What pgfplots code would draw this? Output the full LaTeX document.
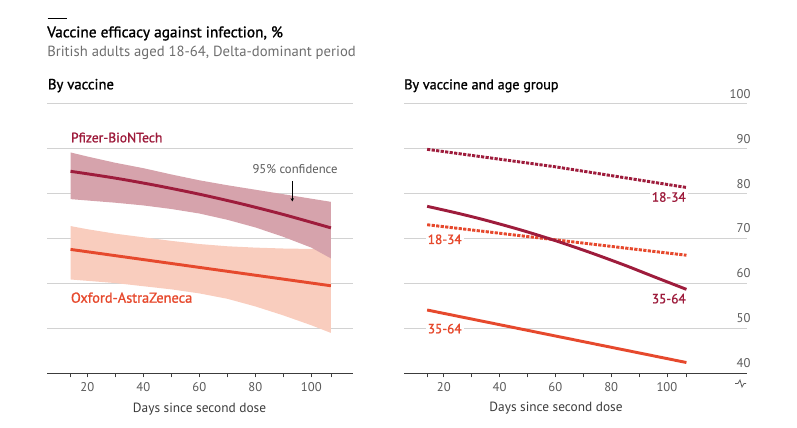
\documentclass[border=0pt]{standalone}
\usepackage{pgfplots}
\pgfplotsset{compat=1.18}
\usepackage{fontspec}
\setmainfont{PT Sans}
\newfontfamily\semib[FakeBold=1.2]{PT Sans}
\usetikzlibrary{arrows.meta}
\definecolor{pfz}{HTML}{9E1C3C}
\definecolor{pfzband}{HTML}{D6A3AC}
\definecolor{ox}{HTML}{E6492D}
\definecolor{oxband}{HTML}{F9CDBE}
\definecolor{gridc}{HTML}{D2D2D2}
\definecolor{axisc}{HTML}{3C3C3C}
\definecolor{tickc}{HTML}{5A5A5A}
\definecolor{subc}{HTML}{6E6E6E}
\pgfplotsset{
  econ/.style={
    scale only axis,
    axis x line*=bottom, axis y line*=right,
    y axis line style={draw=none},
    x axis line style={draw=axisc, line width=0.75pt},
    ymin=40, ymax=100,
    ytick={40,50,60,70,80,90,100},
    ytick style={draw=none},
    ymajorgrids,
    grid style={draw=gridc, line width=0.75pt},
    xtick={20,40,60,80,100},
    extra x ticks={14,30,50,70,90,107},
    extra x tick labels={},
    extra x tick style={grid=none},
    tick align=outside,
    major tick length=3pt,
    xtick style={draw=axisc, line width=0.6pt},
    tick label style={font=\fontsize{9.5}{10}\selectfont, text=tickc},
    xticklabel style={anchor=base, yshift=-10.5pt},
    /pgf/number format/assume math mode=true,
    clip=false,
  }
}
\begin{document}
\begin{tikzpicture}[x=0.75pt,y=0.75pt]
\useasboundingbox (0,0) rectangle (797,428);
% left panel
\begin{axis}[econ, at={(35.475pt,41.025pt)}, anchor=south west, width=229.5pt, height=202pt,
  xmin=5.7, xmax=115, yticklabels={}]
  % Oxford band (upper edge, then lower edge reversed)
  \addplot[fill=oxband, draw=none] coordinates {
    (14,72.8) (20,72.1) (30,71.1) (40,70.3) (50,69.5) (60,68.8) (70,68.3) (80,68.0) (90,67.8) (100,67.7) (107,67.7)
    (107,49.0) (100,50.7) (90,52.9) (80,54.9) (70,56.6) (60,57.8) (50,58.7) (40,59.4) (30,60.1) (20,60.6) (14,60.9)} -- cycle;
  % Pfizer band
  \addplot[fill=pfzband, draw=none] coordinates {
    (14,89.2) (20,88.3) (30,86.9) (40,85.7) (50,84.3) (60,83.0) (70,81.9) (80,80.9) (90,79.9) (100,78.9) (107,78.2)
    (107,65.6) (100,68.0) (90,70.4) (80,72.5) (70,74.2) (60,75.6) (50,76.6) (40,77.4) (30,78.0) (20,78.5) (14,78.8)} -- cycle;
  \addplot[ox, line width=2.2pt, line cap=butt] coordinates {(14,67.6) (107,59.5)};
  \addplot[pfz, line width=2.2pt, smooth, line cap=butt] coordinates {
    (14,85.0) (30,83.48) (45,81.8) (60,79.9) (75,77.76) (90,75.38) (107,72.4)};
\end{axis}
% right panel
\begin{axis}[econ, at={(303pt,41.025pt)}, anchor=south west, width=257pt, height=202pt,
  xmin=5.7, xmax=128.6,
  yticklabel pos=right,
  yticklabel style={anchor=base east, inner sep=0pt, xshift=0pt, yshift=4.3pt}]
  \addplot[pfz, line width=2.2pt, dash pattern=on 2.4pt off 1pt] coordinates {
    (14,89.9) (60,86.0) (107,81.4)};
  \addplot[ox, line width=2.2pt, dash pattern=on 2.4pt off 1pt] coordinates {
    (14,73.1) (107,66.3)};
  \addplot[pfz, line width=2.2pt, smooth, line cap=butt] coordinates {
    (14,77.2) (25,75.65) (35,74.1) (47.5,71.95) (60,69.55) (72.5,66.9) (85,64.05) (95,61.6) (107,58.7)};
  \addplot[ox, line width=2.2pt, line cap=butt] coordinates {
    (14,54.1) (107,42.4)};
\end{axis}
% titles
\draw[black, line width=0.75pt] (47.7,409) -- (66.7,409);
\node[anchor=base west, inner sep=0pt, font=\semib\fontsize{11.5}{12}\selectfont] at (47,390.7) {Vaccine efficacy against infection, \%};
\node[anchor=base west, inner sep=0pt, text=subc, font=\fontsize{11}{12}\selectfont] at (47,371.3) {British adults aged 18-64, Delta-dominant period};
\node[anchor=base west, inner sep=0pt, font=\semib\fontsize{11}{12}\selectfont] at (47.7,338.7) {By vaccine};
\node[anchor=base west, inner sep=0pt, font=\semib\fontsize{10.6}{12}\selectfont] at (404,338.7) {By vaccine and age group};
% left labels
\node[anchor=base west, inner sep=0pt, text=pfz, font=\semib\fontsize{10.2}{12}\selectfont] at (70.7,285.7) {Pfizer-BioNTech};
\node[anchor=base west, inner sep=0pt, text=ox, font=\semib\fontsize{10.8}{12}\selectfont] at (70.7,125.3) {Oxford-AstraZeneca};
\node[anchor=base west, inner sep=0pt, text=tickc, font=\fontsize{9.5}{12}\selectfont] at (252.3,254) {95\% confidence};
\draw[black, line width=0.6pt, -{Stealth[length=2.5pt,width=2.5pt]}] (292.3,247) -- (292.3,226.5);
% x labels
\node[anchor=base, inner sep=0pt, text=axisc, font=\fontsize{10}{12}\selectfont] at (199.5,15.7) {Days since second dose};
\node[anchor=base, inner sep=0pt, text=axisc, font=\fontsize{10}{12}\selectfont] at (556,16.3) {Days since second dose};
% right labels
\node[anchor=base east, inner xsep=1.5pt, inner ysep=0.5pt, fill=white, text=pfz, font=\semib\fontsize{10}{12}\selectfont] at (688,226.3) {18-34};
\node[anchor=base east, inner xsep=1.5pt, inner ysep=0.5pt, fill=white, text=pfz, font=\semib\fontsize{10}{12}\selectfont] at (688,124.7) {35-64};
\node[anchor=base west, inner xsep=1.5pt, inner ysep=0.5pt, fill=white, text=ox, font=\semib\fontsize{10}{12}\selectfont] at (425.5,184) {18-34};
\node[anchor=base west, inner xsep=1.5pt, inner ysep=0.5pt, fill=white, text=ox, font=\semib\fontsize{10}{12}\selectfont] at (425.5,94.7) {35-64};
% axis break
\draw[tickc, line width=0.6pt] (735,44.5) -- (738,44.5) -- (740,48) -- (742,41) -- (744,44.5) -- (746,44.5);
\end{tikzpicture}
\end{document}
